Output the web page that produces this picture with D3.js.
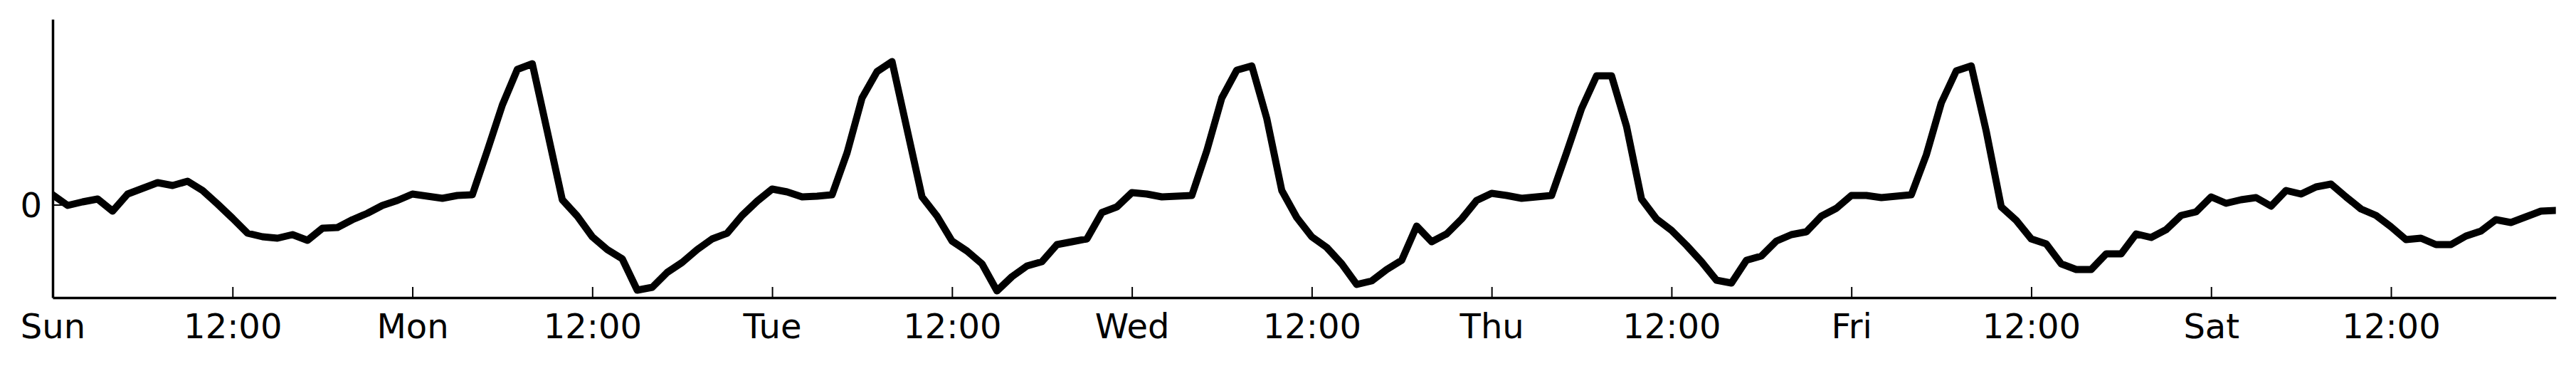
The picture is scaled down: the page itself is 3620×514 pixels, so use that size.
<!DOCTYPE html>
<html>
<head>
<meta charset="utf-8">
<script src="https://cdn.jsdelivr.net/npm/d3@7"></script>
<style>
  html, body { margin: 0; padding: 0; background: #ffffff; }
  svg { display: block; }
</style>
</head>
<body>
<svg id="chart" width="3620" height="514"></svg>
<script>
// Hour of the week (0 = Sunday 00:00), hourly samples
const hours = d3.range(0, 168);

// Standardised activity values (one per hour)
const values = [
  // Sun
  0.14, -0.01, 0.04, 0.08, -0.09, 0.15, 0.23, 0.31, 0.27, 0.33, 0.20, 0.01,
  -0.19, -0.40, -0.45, -0.47, -0.42, -0.50, -0.33, -0.32, -0.21, -0.12, -0.01, 0.06,
  // Mon
  0.15, 0.12, 0.09, 0.13, 0.14, 0.76, 1.40, 1.90, 1.98, 1.03, 0.07, -0.16,
  -0.45, -0.63, -0.76, -1.20, -1.16, -0.95, -0.81, -0.63, -0.48, -0.40, -0.15, 0.05,
  // Tue
  0.22, 0.18, 0.11, 0.12, 0.14, 0.73, 1.50, 1.87, 2.01, 1.06, 0.11, -0.16,
  -0.51, -0.65, -0.83, -1.21, -1.01, -0.86, -0.80, -0.56, -0.52, -0.48, -0.11, -0.03,
  // Wed
  0.17, 0.15, 0.11, 0.12, 0.13, 0.76, 1.50, 1.89, 1.95, 1.21, 0.20, -0.18,
  -0.45, -0.60, -0.83, -1.12, -1.07, -0.91, -0.78, -0.30, -0.52, -0.41, -0.20, 0.06,
  // Thu
  0.16, 0.13, 0.09, 0.11, 0.13, 0.73, 1.35, 1.81, 1.81, 1.10, 0.08, -0.20,
  -0.36, -0.57, -0.80, -1.06, -1.10, -0.78, -0.72, -0.51, -0.42, -0.38, -0.16, -0.05,
  // Fri
  0.13, 0.13, 0.10, 0.12, 0.14, 0.70, 1.43, 1.88, 1.95, 1.03, -0.03, -0.22,
  -0.48, -0.55, -0.83, -0.91, -0.91, -0.69, -0.69, -0.41, -0.46, -0.35, -0.15, -0.10,
  // Sat
  0.11, 0.02, 0.07, 0.10, -0.02, 0.20, 0.15, 0.25, 0.29, 0.11, -0.06, -0.15,
  -0.31, -0.49, -0.47, -0.56, -0.56, -0.44, -0.37, -0.21, -0.25, -0.17, -0.09, -0.08
];

// Tick positions (hours) and their labels
const xTickHours = [0, 12, 24, 36, 48, 60, 72, 84, 96, 108, 120, 132, 144, 156];
const xTickLabels = ["Sun", "12:00", "Mon", "12:00", "Tue", "12:00", "Wed", "12:00",
                     "Thu", "12:00", "Fri", "12:00", "Sat", "12:00"];
const yTickValues = [0];
const yTickLabels = ["0"];
const yDomain = [-1.305, 2.605];

const svg = d3.select("#chart");
const W = 3620, H = 514;
const margin = { left: 74, right: 3620 - 3591.7, top: 27, bottom: 514 - 418 };
const plotW = W - margin.left - margin.right;
const plotH = H - margin.top - margin.bottom;

svg.append("rect").attr("width", W).attr("height", H).attr("fill", "#ffffff");

const x = d3.scaleLinear().domain([0, 167]).range([0, plotW]);
const y = d3.scaleLinear().domain(yDomain).range([plotH, 0]);

const g = svg.append("g").attr("transform", `translate(${margin.left},${margin.top})`);

g.append("defs").append("clipPath").attr("id", "plotclip")
  .append("rect").attr("x", 0).attr("y", 0).attr("width", plotW).attr("height", plotH);

// Data line
const line = d3.line().x((d, i) => x(hours[i])).y(d => y(d));
g.append("path")
  .datum(values)
  .attr("clip-path", "url(#plotclip)")
  .attr("fill", "none")
  .attr("stroke", "#000000")
  .attr("stroke-width", 10)
  .attr("stroke-linejoin", "round")
  .attr("stroke-linecap", "square")
  .attr("d", line);

const fontFamily = "'DejaVu Sans', sans-serif";
const fontSize = 48;

// X axis (ticks pointing inward)
const xAxis = d3.axisBottom(x)
  .tickValues(xTickHours)
  .tickFormat((d, i) => xTickLabels[i])
  .tickSizeInner(-15)
  .tickSizeOuter(0);
const gx = g.append("g").attr("transform", `translate(0,${plotH})`).call(xAxis);
gx.select(".domain").attr("stroke", "#000").attr("stroke-width", 3.5);
gx.selectAll(".tick line").attr("stroke", "#000").attr("stroke-width", 2);
gx.selectAll(".tick text")
  .attr("fill", "#000")
  .attr("y", 57)
  .attr("dy", 0)
  .style("font-family", fontFamily)
  .style("font-size", fontSize + "px");

// Y axis (ticks pointing inward)
const yAxis = d3.axisLeft(y)
  .tickValues(yTickValues)
  .tickFormat((d, i) => yTickLabels[i])
  .tickSizeInner(-16)
  .tickSizeOuter(0);
const gy = g.append("g").call(yAxis);
gy.select(".domain").attr("stroke", "#000").attr("stroke-width", 3.5);
gy.selectAll(".tick line").attr("stroke", "#000").attr("stroke-width", 2);
gy.selectAll(".tick text")
  .attr("fill", "#000")
  .attr("x", -15)
  .attr("dy", "0.36em")
  .attr("text-anchor", "end")
  .style("font-family", fontFamily)
  .style("font-size", fontSize + "px");
</script>
</body>
</html>
